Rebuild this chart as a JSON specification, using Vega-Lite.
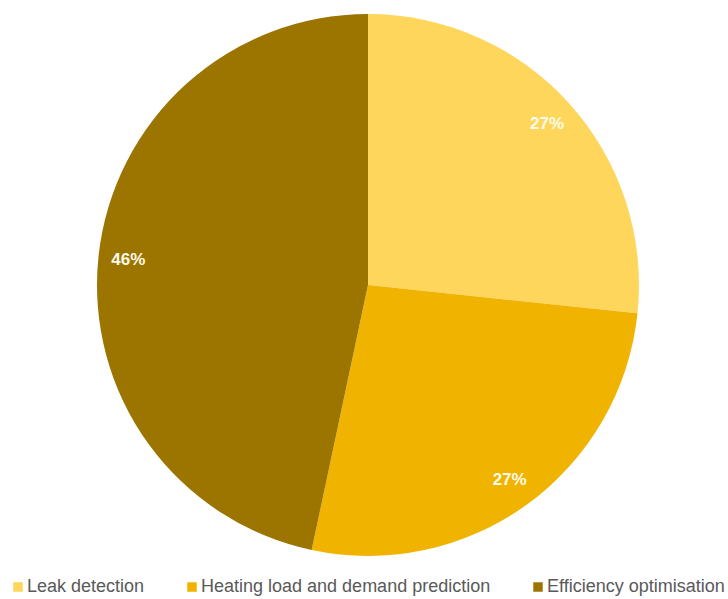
{
  "$schema": "https://vega.github.io/schema/vega-lite/v6.json",
  "width": 720,
  "height": 570,
  "autosize": "none",
  "padding": {"left": 8, "top": 0, "right": 0, "bottom": 29},
  "background": "white",
  "config": {"view": {"stroke": null}, "font": "Liberation Sans"},
  "data": {
    "values": [
      {"category": "Leak detection", "value": 4, "order": 1, "label": "27%"},
      {"category": "Heating load and demand prediction", "value": 4, "order": 2, "label": "27%"},
      {"category": "Efficiency optimisation", "value": 7, "order": 3, "label": "46%"}
    ]
  },
  "encoding": {
    "theta": {"field": "value", "type": "quantitative", "stack": true},
    "order": {"field": "order", "type": "quantitative"}
  },
  "layer": [
    {
      "mark": {"type": "arc", "outerRadius": 271},
      "encoding": {
        "color": {
          "field": "category",
          "type": "nominal",
          "sort": ["Leak detection", "Heating load and demand prediction", "Efficiency optimisation"],
          "scale": {
            "domain": ["Leak detection", "Heating load and demand prediction", "Efficiency optimisation"],
            "range": ["#FFD65C", "#F0B400", "#9C7400"]
          },
          "legend": {
            "title": null,
            "orient": "none",
            "direction": "horizontal",
            "legendX": 1,
            "legendY": 578,
            "symbolType": "square",
            "symbolSize": 90,
            "symbolStrokeWidth": 0,
            "labelFontSize": 18,
            "labelLimit": 0,
            "labelColor": "#595959",
            "labelOffset": 0,
            "columnPadding": 38
          }
        }
      }
    },
    {
      "mark": {"type": "text", "radius": 241, "fontSize": 17, "fontWeight": "bold", "color": "#FFFBEA"},
      "encoding": {"text": {"field": "label", "type": "nominal"}}
    }
  ]
}
